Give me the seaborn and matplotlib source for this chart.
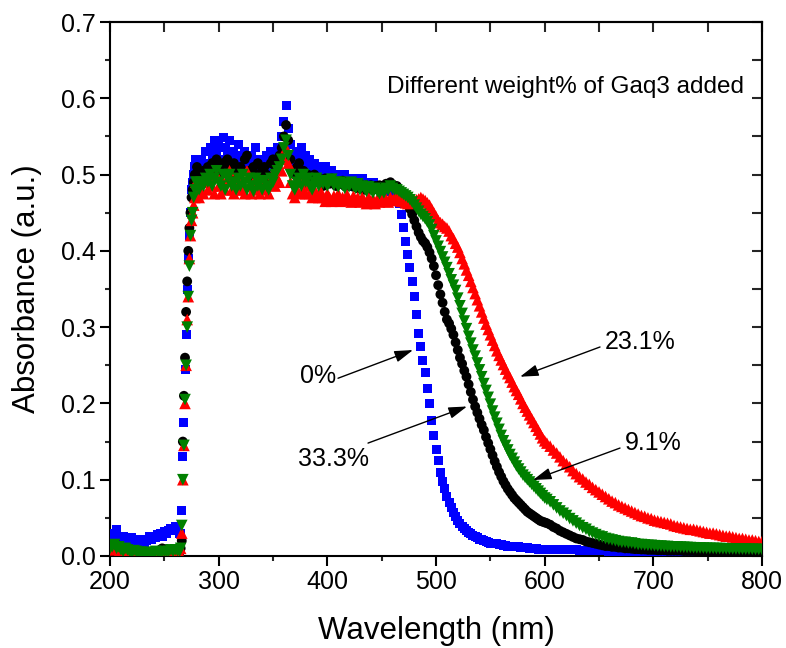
import numpy as np
import pandas as pd
import matplotlib
matplotlib.use("Agg")
import matplotlib.pyplot as plt
from matplotlib.ticker import MultipleLocator, FormatStrFormatter
import seaborn as sns

# ---------------- data ----------------
# wavelength sampling grid (nm): baseline, rise, plateau, edge, tail
wl_base = np.arange(200, 265, 2)      # 33
wl_rise = np.arange(265, 281, 1)      # 16
wl_plat = np.arange(282, 463, 2)      # 91
wl_edge = np.arange(464, 601, 2)      # 69
wl_tail = np.arange(602, 801, 3)      # 67

# ---- 0 % (blue squares)
blue_base = [0.015, 0.030, 0.025, 0.035, 0.022, 0.020, 0.025, 0.018, 0.022, 0.020,
             0.024, 0.018, 0.022, 0.020, 0.018, 0.022, 0.016, 0.020, 0.025, 0.022,
             0.026, 0.024, 0.028, 0.030, 0.026, 0.032, 0.030, 0.034, 0.036, 0.033,
             0.038, 0.035, 0.030]
blue_rise = [0.030, 0.060, 0.130, 0.175, 0.245, 0.290, 0.350, 0.390, 0.420, 0.450,
             0.480, 0.490, 0.500, 0.510, 0.520, 0.515]
blue_plat = [0.505, 0.520, 0.515, 0.530, 0.510, 0.535, 0.525, 0.545, 0.530, 0.540,
             0.520, 0.548, 0.535, 0.525, 0.545, 0.520, 0.530, 0.515, 0.540, 0.525,
             0.510, 0.530, 0.515, 0.505, 0.525, 0.515, 0.535, 0.510, 0.520, 0.505,
             0.515, 0.525, 0.510, 0.530, 0.515, 0.520, 0.535, 0.525, 0.550, 0.570,
             0.590, 0.560, 0.540, 0.525, 0.515, 0.530, 0.520, 0.535, 0.515, 0.525,
             0.505, 0.520, 0.510, 0.515, 0.500, 0.510, 0.505, 0.500, 0.510, 0.500,
             0.495, 0.505, 0.495, 0.490, 0.500, 0.490, 0.495, 0.500, 0.490, 0.495,
             0.485, 0.495, 0.490, 0.485, 0.490, 0.495, 0.485, 0.490, 0.480, 0.485,
             0.490, 0.480, 0.485, 0.480, 0.485, 0.480, 0.478, 0.482, 0.478, 0.475,
             0.472]
blue_edge = [0.470, 0.462, 0.448, 0.430, 0.412, 0.395, 0.378, 0.360, 0.340, 0.316,
             0.292, 0.275, 0.256, 0.240, 0.220, 0.200, 0.178, 0.158, 0.140, 0.125,
             0.110, 0.098, 0.088, 0.078, 0.070, 0.063, 0.057, 0.052, 0.047, 0.043,
             0.039, 0.036, 0.033, 0.031, 0.029, 0.027, 0.025, 0.024, 0.022, 0.021,
             0.020, 0.019, 0.018, 0.017, 0.017, 0.016, 0.016, 0.015, 0.015, 0.014,
             0.014, 0.013, 0.013, 0.013, 0.012, 0.012, 0.012, 0.011, 0.011, 0.011,
             0.011, 0.010, 0.010, 0.010, 0.010, 0.009, 0.009, 0.009, 0.009]
blue_tail = [0.009, 0.009, 0.009, 0.009, 0.008, 0.008, 0.008, 0.008, 0.008, 0.008,
             0.007, 0.007, 0.007, 0.007, 0.007, 0.007, 0.007, 0.007, 0.007, 0.006,
             0.006, 0.006, 0.006, 0.006, 0.006, 0.006, 0.006, 0.006, 0.006, 0.006,
             0.005, 0.005, 0.005, 0.005, 0.005, 0.005, 0.005, 0.005, 0.005, 0.005,
             0.005, 0.005, 0.005, 0.005, 0.005, 0.005, 0.005, 0.004, 0.004, 0.004,
             0.004, 0.004, 0.004, 0.004, 0.004, 0.004, 0.004, 0.004, 0.004, 0.004,
             0.004, 0.004, 0.004, 0.004, 0.004, 0.004, 0.004]

# ---- 33.3 % (black circles)
black_base = [0.006, 0.010, 0.008, 0.015, 0.006, 0.005, 0.004, 0.006, 0.003, 0.004,
              0.003, 0.004, 0.002, 0.003, 0.004, 0.002, 0.003, 0.003, 0.004, 0.002,
              0.003, 0.004, 0.006, 0.008, 0.010, 0.008, 0.009, 0.006, 0.008, 0.005,
              0.006, 0.004, 0.005]
black_rise = [0.010, 0.020, 0.150, 0.210, 0.260, 0.320, 0.360, 0.400, 0.430, 0.450,
              0.470, 0.480, 0.490, 0.500, 0.500, 0.510]
black_plat = [0.490, 0.500, 0.505, 0.495, 0.510, 0.500, 0.515, 0.505, 0.520, 0.510,
              0.500, 0.515, 0.505, 0.520, 0.510, 0.500, 0.515, 0.505, 0.495, 0.510,
              0.505, 0.520, 0.525, 0.505, 0.495, 0.510, 0.500, 0.515, 0.500, 0.505,
              0.510, 0.500, 0.495, 0.515, 0.520, 0.505, 0.515, 0.525, 0.535, 0.550,
              0.565, 0.545, 0.520, 0.505, 0.500, 0.510, 0.515, 0.500, 0.505, 0.495,
              0.500, 0.490, 0.495, 0.500, 0.490, 0.495, 0.490, 0.485, 0.495, 0.490,
              0.488, 0.495, 0.490, 0.485, 0.490, 0.488, 0.492, 0.485, 0.490, 0.486,
              0.490, 0.484, 0.488, 0.482, 0.488, 0.485, 0.480, 0.486, 0.482, 0.486,
              0.480, 0.485, 0.482, 0.486, 0.480, 0.484, 0.488, 0.486, 0.490, 0.486,
              0.485]
black_edge = [0.485, 0.480, 0.475, 0.470, 0.465, 0.460, 0.455, 0.448, 0.440, 0.432,
              0.424, 0.418, 0.413, 0.410, 0.405, 0.398, 0.390, 0.380, 0.368, 0.355,
              0.343, 0.332, 0.320, 0.310, 0.305, 0.298, 0.290, 0.280, 0.270, 0.260,
              0.252, 0.243, 0.235, 0.225, 0.215, 0.205, 0.196, 0.188, 0.180, 0.172,
              0.165, 0.156, 0.148, 0.140, 0.132, 0.124, 0.117, 0.110, 0.104, 0.098,
              0.093, 0.088, 0.084, 0.080, 0.076, 0.073, 0.070, 0.067, 0.064, 0.061,
              0.058, 0.056, 0.054, 0.052, 0.050, 0.048, 0.046, 0.045, 0.044]
black_tail = [0.043, 0.041, 0.038, 0.036, 0.033, 0.031, 0.029, 0.027, 0.025, 0.023,
              0.022, 0.021, 0.019, 0.018, 0.017, 0.016, 0.015, 0.014, 0.013, 0.013,
              0.012, 0.012, 0.011, 0.011, 0.010, 0.010, 0.0095, 0.009, 0.009, 0.0085,
              0.0085, 0.008, 0.008, 0.008, 0.0075, 0.0075, 0.0075, 0.007, 0.007, 0.007,
              0.007, 0.007, 0.0065, 0.0065, 0.0065, 0.0065, 0.006, 0.006, 0.006, 0.006,
              0.006, 0.006, 0.0058, 0.0057, 0.0056, 0.0055, 0.0055, 0.0054, 0.0053, 0.0052,
              0.0052, 0.0051, 0.005, 0.005, 0.005, 0.005, 0.005]

# ---- 23.1 % (red up-triangles)
red_base = [0.012, 0.015, 0.008, 0.010, 0.005, 0.006, 0.008, 0.004, 0.005, 0.006,
            0.003, 0.004, 0.005, 0.003, 0.004, 0.003, 0.002, 0.004, 0.003, 0.002,
            0.003, 0.004, 0.002, 0.003, 0.005, 0.004, 0.003, 0.005, 0.004, 0.003,
            0.004, 0.003, 0.004]
red_rise = [0.010, 0.030, 0.100, 0.145, 0.200, 0.250, 0.310, 0.340, 0.390, 0.420,
            0.440, 0.450, 0.460, 0.470, 0.490, 0.480]
red_plat = [0.470, 0.480, 0.475, 0.490, 0.480, 0.495, 0.485, 0.475, 0.500, 0.485,
            0.475, 0.490, 0.480, 0.495, 0.505, 0.480, 0.475, 0.490, 0.480, 0.495,
            0.480, 0.475, 0.505, 0.485, 0.475, 0.490, 0.480, 0.495, 0.475, 0.485,
            0.490, 0.480, 0.475, 0.490, 0.500, 0.485, 0.495, 0.490, 0.505, 0.520,
            0.535, 0.515, 0.490, 0.475, 0.470, 0.480, 0.475, 0.490, 0.480, 0.475,
            0.485, 0.475, 0.470, 0.480, 0.475, 0.470, 0.478, 0.470, 0.465, 0.475,
            0.470, 0.465, 0.472, 0.468, 0.475, 0.465, 0.470, 0.466, 0.474, 0.468,
            0.464, 0.472, 0.466, 0.470, 0.464, 0.470, 0.466, 0.462, 0.470, 0.465,
            0.468, 0.462, 0.468, 0.464, 0.470, 0.465, 0.468, 0.464, 0.470, 0.466,
            0.470]
red_edge = [0.470, 0.468, 0.465, 0.465, 0.463, 0.462, 0.463, 0.465, 0.465, 0.467,
            0.468, 0.470, 0.468, 0.466, 0.463, 0.460, 0.455, 0.450, 0.445, 0.440,
            0.437, 0.435, 0.432, 0.430, 0.426, 0.420, 0.416, 0.410, 0.405, 0.398,
            0.390, 0.383, 0.375, 0.368, 0.360, 0.352, 0.344, 0.336, 0.328, 0.320,
            0.312, 0.304, 0.297, 0.290, 0.283, 0.276, 0.269, 0.263, 0.257, 0.251,
            0.245, 0.239, 0.234, 0.228, 0.222, 0.217, 0.212, 0.206, 0.200, 0.195,
            0.190, 0.185, 0.180, 0.175, 0.170, 0.165, 0.160, 0.155, 0.151]
red_tail = [0.148, 0.144, 0.139, 0.135, 0.130, 0.125, 0.121, 0.117, 0.112, 0.108,
            0.104, 0.101, 0.097, 0.094, 0.090, 0.087, 0.084, 0.081, 0.078, 0.075,
            0.072, 0.070, 0.067, 0.065, 0.063, 0.061, 0.059, 0.057, 0.055, 0.053,
            0.052, 0.050, 0.049, 0.047, 0.046, 0.045, 0.044, 0.043, 0.042, 0.040,
            0.039, 0.038, 0.037, 0.036, 0.035, 0.035, 0.034, 0.033, 0.032, 0.031,
            0.030, 0.030, 0.029, 0.028, 0.027, 0.026, 0.026, 0.025, 0.024, 0.023,
            0.023, 0.022, 0.021, 0.021, 0.020, 0.019, 0.019]

# ---- 9.1 % (green down-triangles)
green_base = [0.010, 0.012, 0.015, 0.010, 0.012, 0.008, 0.006, 0.010, 0.008, 0.006,
              0.004, 0.007, 0.006, 0.003, 0.005, 0.004, 0.003, 0.005, 0.004, 0.003,
              0.004, 0.006, 0.005, 0.004, 0.005, 0.006, 0.005, 0.006, 0.008, 0.006,
              0.008, 0.007, 0.006]
green_rise = [0.010, 0.040, 0.100, 0.145, 0.205, 0.250, 0.300, 0.340, 0.380, 0.420,
              0.440, 0.450, 0.470, 0.480, 0.490, 0.490]
green_plat = [0.480, 0.490, 0.485, 0.495, 0.490, 0.500, 0.485, 0.495, 0.505, 0.490,
              0.485, 0.500, 0.480, 0.495, 0.500, 0.485, 0.490, 0.480, 0.495, 0.485,
              0.500, 0.490, 0.480, 0.495, 0.485, 0.478, 0.495, 0.485, 0.490, 0.480,
              0.492, 0.485, 0.480, 0.495, 0.490, 0.500, 0.505, 0.510, 0.520, 0.535,
              0.545, 0.525, 0.500, 0.485, 0.480, 0.490, 0.495, 0.485, 0.500, 0.490,
              0.495, 0.485, 0.480, 0.490, 0.495, 0.485, 0.490, 0.488, 0.492, 0.485,
              0.490, 0.494, 0.486, 0.490, 0.484, 0.490, 0.486, 0.482, 0.488, 0.484,
              0.490, 0.485, 0.482, 0.488, 0.480, 0.485, 0.482, 0.478, 0.484, 0.480,
              0.476, 0.482, 0.478, 0.475, 0.480, 0.476, 0.482, 0.480, 0.485, 0.482,
              0.480]
green_edge = [0.480, 0.478, 0.476, 0.474, 0.472, 0.470, 0.467, 0.464, 0.460, 0.456,
              0.452, 0.448, 0.445, 0.442, 0.438, 0.434, 0.428, 0.420, 0.413, 0.406,
              0.399, 0.392, 0.385, 0.378, 0.370, 0.362, 0.355, 0.348, 0.338, 0.328,
              0.318, 0.308, 0.298, 0.288, 0.279, 0.270, 0.262, 0.253, 0.244, 0.235,
              0.226, 0.217, 0.208, 0.199, 0.190, 0.182, 0.174, 0.166, 0.158, 0.151,
              0.145, 0.139, 0.133, 0.128, 0.123, 0.118, 0.114, 0.110, 0.106, 0.103,
              0.100, 0.097, 0.094, 0.091, 0.088, 0.085, 0.082, 0.079, 0.076]
green_tail = [0.074, 0.071, 0.067, 0.063, 0.059, 0.056, 0.053, 0.049, 0.046, 0.043,
              0.040, 0.037, 0.035, 0.032, 0.030, 0.028, 0.026, 0.025, 0.023, 0.022,
              0.021, 0.020, 0.019, 0.018, 0.018, 0.017, 0.017, 0.016, 0.015, 0.015,
              0.0145, 0.014, 0.014, 0.0135, 0.013, 0.013, 0.0125, 0.0125, 0.012, 0.012,
              0.0118, 0.0116, 0.0114, 0.0112, 0.011, 0.0108, 0.0106, 0.0105, 0.0104, 0.0102,
              0.010, 0.010, 0.0098, 0.0097, 0.0096, 0.0095, 0.0094, 0.0093, 0.0092, 0.0091,
              0.009, 0.009, 0.0089, 0.0088, 0.0087, 0.0086, 0.0085]

labels = ["0%", "33.3%", "23.1%", "9.1%"]
title_text = "Different weight% of Gaq3 added"

# ---------------- assemble ----------------
wavelength = np.concatenate([wl_base, wl_rise, wl_plat, wl_edge, wl_tail])
series = {
    "0%": blue_base + blue_rise + blue_plat + blue_edge + blue_tail,
    "33.3%": black_base + black_rise + black_plat + black_edge + black_tail,
    "23.1%": red_base + red_rise + red_plat + red_edge + red_tail,
    "9.1%": green_base + green_rise + green_plat + green_edge + green_tail,
}
frames = []
for name, vals in series.items():
    assert len(vals) == len(wavelength), (name, len(vals), len(wavelength))
    frames.append(pd.DataFrame({"Wavelength": wavelength, "Absorbance": vals, "sample": name}))
df = pd.concat(frames, ignore_index=True)

styles = {
    "0%": dict(color="#0000FF", marker="s", s=42),
    "33.3%": dict(color="#000000", marker="o", s=50),
    "23.1%": dict(color="#FF0000", marker="^", s=70),
    "9.1%": dict(color="#008000", marker="v", s=70),
}

# ---------------- plot ----------------
sns.set_theme(style="ticks")
plt.rcParams["font.family"] = ["Liberation Sans", "DejaVu Sans"]

fig = plt.figure(figsize=(7.86, 6.48), dpi=100)
ax = fig.add_axes([0.14, 0.142, 0.8295, 0.824])

for name in ["0%", "33.3%", "23.1%", "9.1%"]:
    st = styles[name]
    sns.scatterplot(data=df[df["sample"] == name], x="Wavelength", y="Absorbance",
                    color=st["color"], marker=st["marker"], s=st["s"],
                    linewidth=0, edgecolor="none", ax=ax, legend=False, zorder=3)

ax.set_xlim(200, 800)
ax.set_ylim(0, 0.7)
ax.xaxis.set_major_locator(MultipleLocator(100))
ax.xaxis.set_minor_locator(MultipleLocator(50))
ax.yaxis.set_major_locator(MultipleLocator(0.1))
ax.yaxis.set_minor_locator(MultipleLocator(0.05))
ax.xaxis.set_major_formatter(FormatStrFormatter("%d"))
ax.yaxis.set_major_formatter(FormatStrFormatter("%.1f"))

for sp in ax.spines.values():
    sp.set_linewidth(1.5)
    sp.set_color("black")
ax.tick_params(which="major", direction="out", length=7, width=1.5, labelsize=18,
               colors="black", pad=3)
ax.tick_params(which="minor", direction="out", length=3.8, width=1.5)

# mirrored inward ticks on top and right
secx = ax.secondary_xaxis("top")
secx.xaxis.set_major_locator(MultipleLocator(100))
secx.xaxis.set_minor_locator(MultipleLocator(50))
secx.tick_params(which="both", direction="in", length=7, width=1.5, labeltop=False)
secy = ax.secondary_yaxis("right")
secy.yaxis.set_major_locator(MultipleLocator(0.1))
secy.yaxis.set_minor_locator(MultipleLocator(0.05))
secy.tick_params(which="both", direction="in", length=7, width=1.5, labelright=False)
for s in (secx, secy):
    for sp in s.spines.values():
        sp.set_linewidth(1.5)

ax.set_xlabel("Wavelength (nm)", fontsize=22.5, color="black")
ax.set_ylabel("Absorbance (a.u.)", fontsize=22.5, color="black")
ax.xaxis.set_label_coords(0.5, -0.113)
ax.yaxis.set_label_coords(-0.104, 0.5)

ax.text(618.7, 0.615, title_text, fontsize=17.5, ha="center", va="center", color="black")

arrow_kw = dict(arrowstyle="-|>,head_length=0.7,head_width=0.22", color="black",
                lw=1.0, shrinkA=0, shrinkB=0, mutation_scale=16)
annots = [
    ("0%", (391.4, 0.236), (409.8, 0.233), (478.8, 0.270)),
    ("33.3%", (405.2, 0.127), (437.4, 0.148), (528.5, 0.196)),
    ("23.1%", (687.7, 0.280), (650.9, 0.274), (577.3, 0.235)),
    ("9.1%", (699.7, 0.148), (669.3, 0.1415), (589.2, 0.0996)),
]
for lab, tpos, tail, head in annots:
    ax.text(tpos[0], tpos[1], lab, fontsize=18, ha="center", va="center", color="black")
    ax.annotate("", xy=head, xytext=tail, arrowprops=arrow_kw)

fig.savefig("out.png", dpi=100)
